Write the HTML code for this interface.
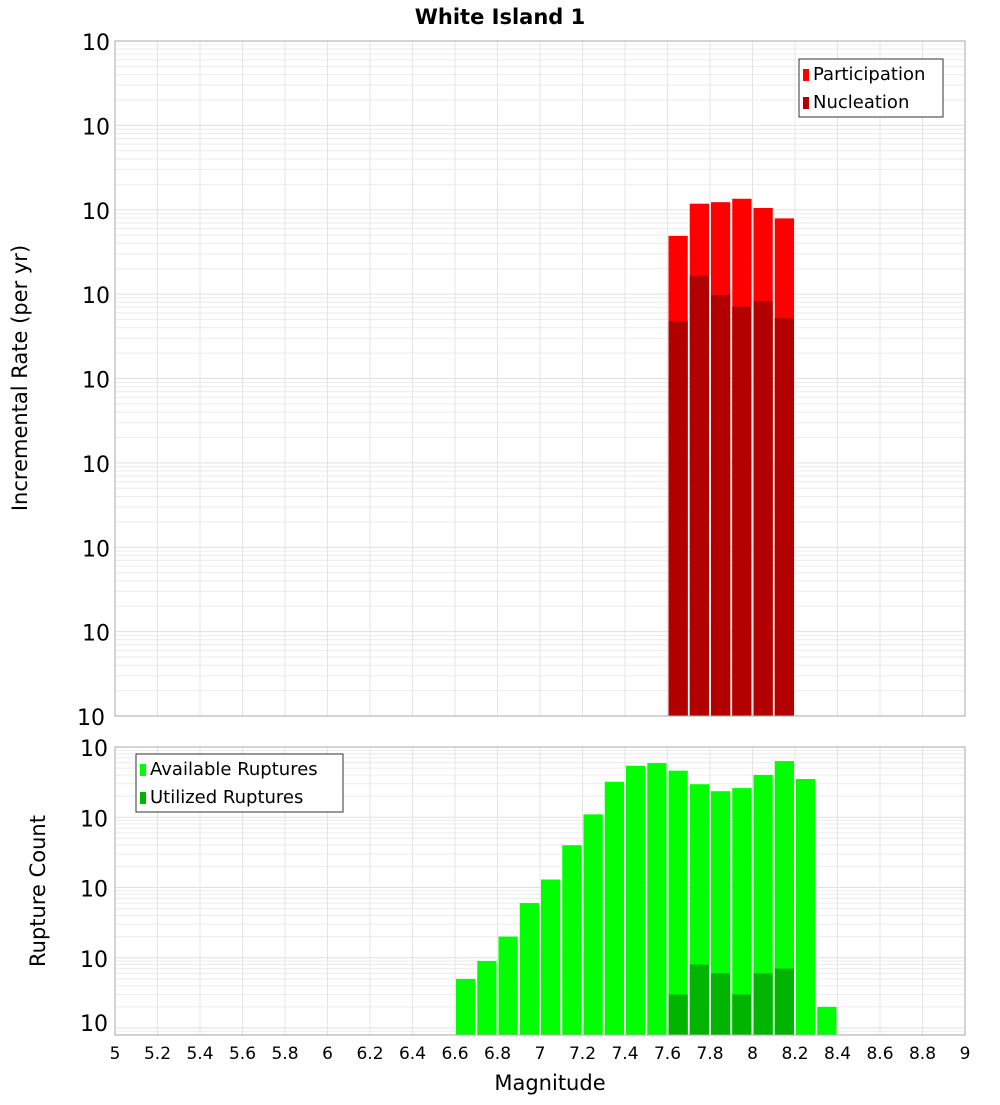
<!DOCTYPE html>
<html><head><meta charset="utf-8"><style>
body{margin:0;background:#fff;font-family:"Liberation Sans","DejaVu Sans",sans-serif}
svg text{font-family:"DejaVu Sans","Liberation Sans",sans-serif}
</style></head><body>
<svg id="c" width="1000" height="1100" xmlns="http://www.w3.org/2000/svg">
<text x="500" y="24" text-anchor="middle" font-size="21" font-weight="bold">White Island 1</text>
<g id="top"></g>
<g id="bot"></g>
<text x="550" y="1090" text-anchor="middle" font-size="21">Magnitude</text>
<text transform="translate(27,378) rotate(-90)" text-anchor="middle" font-size="21">Incremental Rate (per yr)</text>
<text transform="translate(45,891) rotate(-90)" text-anchor="middle" font-size="21">Rupture Count</text>
</svg>
<script>
const topMags=[7.6,7.7,7.8,7.9,8.0,8.1];
const participation=[4.9e-5,1.18e-4,1.23e-4,1.35e-4,1.05e-4,7.9e-5];
const nucleation=[4.8e-6,1.66e-5,9.8e-6,7.1e-6,8.3e-6,5.2e-6];
const botMags=[6.6,6.7,6.8,6.9,7.0,7.1,7.2,7.3,7.4,7.5,7.6,7.7,7.8,7.9,8.0,8.1,8.2,8.3];
const available=[5,9,20,60,130,400,1100,3200,5400,5900,4600,2950,2350,2600,4000,6300,3500,2];
const utilMags=[7.6,7.7,7.8,7.9,8.0,8.1];
const utilized=[3,8,6,3,6,7];
const xTicks=[5,5.2,5.4,5.6,5.8,6,6.2,6.4,6.6,6.8,7,7.2,7.4,7.6,7.8,8,8.2,8.4,8.6,8.8,9];
const topDecades=[-2,-3,-4,-5,-6,-7,-8,-9,-10];
const botDecades=[4,3,2,1,0];

const NS='http://www.w3.org/2000/svg';
const X0=115,X1=965;
const xs=m=>X0+(m-5)/4*(X1-X0);
function mk(p,t,a){const e=document.createElementNS(NS,t);for(const k in a)e.setAttribute(k,a[k]);p.appendChild(e);return e;}
// top axis
const tT=41,tB=716,tMax=-2,tMin=-10;
const yT=v=>tT+(tMax-Math.log10(v))/(tMax-tMin)*(tB-tT);
// bottom axis
const bT=747,bB=1035,bMax=4,dec=70.25;
const yB=v=>bT+(bMax-Math.log10(v))*dec;

function grid(g,top,bot,ylog,lo,hi){
  for(let d=lo;d<hi;d++)for(let k=1;k<10;k++){const y=ylog(k*Math.pow(10,d));if(y<top-0.5||y>bot+0.5)continue;
    const l=mk(g,'line',{x1:X0,x2:X1,y1:y,y2:y,stroke:k==1?'#e0e0e0':'#ececec','stroke-width':1});
    }
  xTicks.forEach(m=>{const x=xs(m);const l=mk(g,'line',{x1:x,x2:x,y1:top,y2:bot,stroke:'#e4e4e4','stroke-width':1});
    });
}
function bar(g,m,v,yf,bot,fill,name){
  const x=xs(m)+1,w=xs(m+0.1)-xs(m)-2,y=yf(v);
  const r=mk(g,'rect',{x:x,y:y,width:w,height:bot-y,fill:fill});
  
}
function ylab(g,x,y,exp){
  const t=mk(g,'text',{x:x,y:y+9,'text-anchor':'end','font-size':22});
  
  t.textContent='10';
  const s=mk(g,'tspan',{dy:-12,'font-size':15});s.textContent=exp;
}
function legend(g,x,y,w,items){
  const b=mk(g,'rect',{x:x,y:y,width:w,height:58,fill:'#fff',stroke:'#333','stroke-width':1});
  
  items.forEach((it,i)=>{
    const r=mk(g,'rect',{x:x+4,y:y+10+i*28,width:6,height:12,fill:it[1]});
    
    const t=mk(g,'text',{x:x+14,y:y+21+i*28,'font-size':18});
    
    t.textContent=it[0];
  });
}
const gt=document.getElementById('top'),gb=document.getElementById('bot');
grid(gt,tT,tB,yT,-10,-2);
participation.forEach((v,i)=>bar(gt,topMags[i],v,yT,tB,'#ff0000','participation-bar'));
nucleation.forEach((v,i)=>bar(gt,topMags[i],v,yT,tB,'#b20000','nucleation-bar'));
let f=mk(gt,'rect',{x:X0,y:tT,width:X1-X0,height:tB-tT,fill:'none',stroke:'#aaa'});

topDecades.forEach(d=>ylab(gt,d==-10?105:110,yT(Math.pow(10,d)),String(d)));
legend(gt,799,59,144,[['Participation','#ff0000'],['Nucleation','#b20000']]);

grid(gb,bT,bB,yB,-1,4);
available.forEach((v,i)=>bar(gb,botMags[i],v,yB,bB,'#00ff00','available-bar'));
utilized.forEach((v,i)=>bar(gb,utilMags[i],v,yB,bB,'#00b400','utilized-bar'));
f=mk(gb,'rect',{x:X0,y:bT,width:X1-X0,height:bB-bT,fill:'none',stroke:'#aaa'});

botDecades.forEach(d=>ylab(gb,108,yB(Math.pow(10,d))+(d==0?-6:0),String(d)));
legend(gb,136,754,207,[['Available Ruptures','#00ff00'],['Utilized Ruptures','#00b400']]);
xTicks.forEach(m=>{const t=mk(gb,'text',{x:xs(m),y:1059,'text-anchor':'middle','font-size':17});
  
  t.textContent=String(m);});
</script>
</body></html>
